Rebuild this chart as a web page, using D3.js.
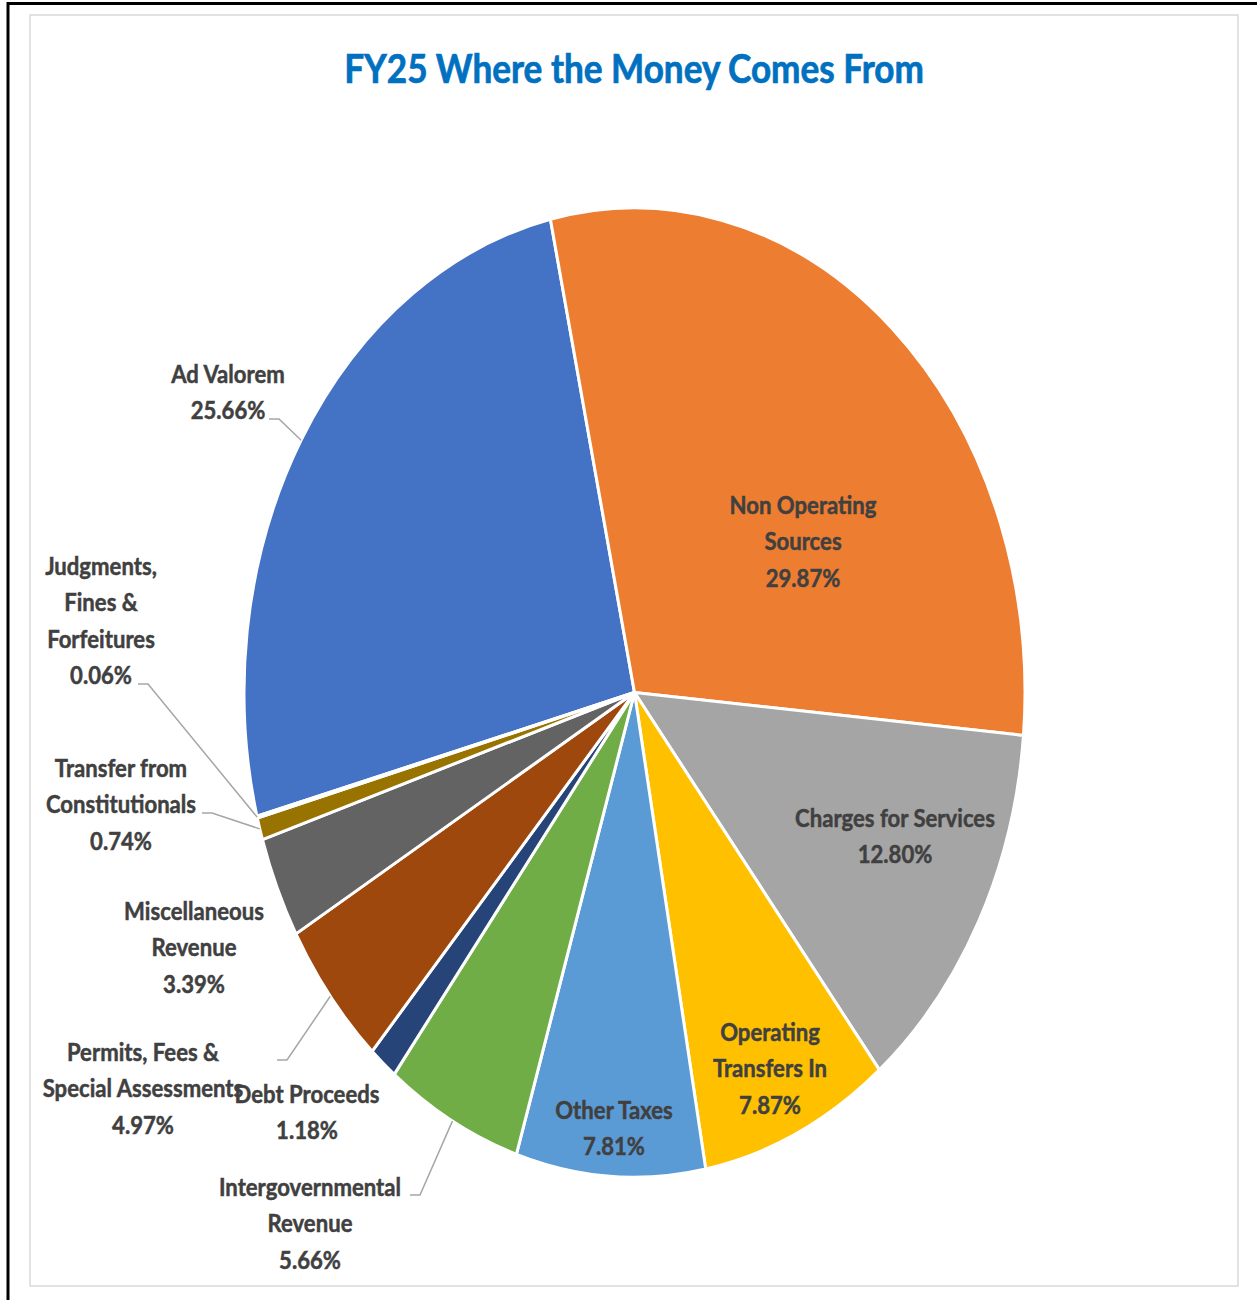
<!DOCTYPE html>
<html>
<head>
<meta charset="utf-8">
<script src="https://cdnjs.cloudflare.com/ajax/libs/d3/7.8.5/d3.min.js"></script>
<style>
  body { margin: 0; background: #fff; }
  .lbl { font-family: Lato, "Open Sans", sans-serif; font-weight: bold; fill: #404040; stroke: #404040; stroke-width: 0.5px; }
</style>
</head>
<body>
<div id="chart"></div>
<script>
var width = 1257, height = 1300;

// data, in Excel's point order (first slice = Ad Valorem)
var categories = ["Ad Valorem", "Non Operating Sources", "Charges for Services", "Operating Transfers In",
    "Other Taxes", "Intergovernmental Revenue", "Debt Proceeds", "Permits, Fees & Special Assessments",
    "Miscellaneous Revenue", "Transfer from Constitutionals", "Judgments, Fines & Forfeitures"];
var values = [25.66, 29.87, 12.80, 7.87, 7.81, 5.66, 1.18, 4.97, 3.39, 0.74, 0.06];
var labelLines = [
    ["Ad Valorem"], ["Non Operating", "Sources"], ["Charges for Services"], ["Operating", "Transfers In"],
    ["Other Taxes"], ["Intergovernmental", "Revenue"], ["Debt Proceeds"], ["Permits, Fees &", "Special Assessments"],
    ["Miscellaneous", "Revenue"], ["Transfer from", "Constitutionals"], ["Judgments,", "Fines &", "Forfeitures"]];
var colors = ["#4472C4", "#ED7D31", "#A5A5A5", "#FFC000", "#5B9BD5", "#70AD47",
    "#264478", "#9E480E", "#636363", "#997300", "#255E91"];

// label placement (Excel "best fit"): center x, first baseline, leader start (or null)
var labelPos = [
    { x: 228, y: 383, lead: [269, 419] },
    { x: 803, y: 514, lead: null },
    { x: 895, y: 827, lead: null },
    { x: 770, y: 1041, lead: null },
    { x: 614, y: 1119, lead: null },
    { x: 310, y: 1196, lead: [410, 1195] },
    { x: 307, y: 1103, lead: null },
    { x: 143, y: 1061, lead: [277, 1060] },
    { x: 194, y: 920, lead: null },
    { x: 121, y: 777, lead: [202, 813] },
    { x: 101, y: 575, lead: [138, 684] }
];

var cx = 634.5, cy = 692.5, rx = 390.5, ry = 484.5;
var lineH = 36.4;
var startDeg = 255.2;

var svg = d3.select("#chart").append("svg")
    .attr("width", width)
    .attr("height", height);

// outer frame
svg.append("path")
    .attr("d", "M8,1300 L8,3.5 L1257,3.5")
    .attr("fill", "none")
    .attr("stroke", "#000")
    .attr("stroke-width", 3);

svg.append("rect")
    .attr("x", 30).attr("y", 15)
    .attr("width", 1208).attr("height", 1271)
    .attr("fill", "#fff")
    .attr("stroke", "#d9d9d9")
    .attr("stroke-width", 1.5);

// title, squeezed horizontally to the narrow face of the original
var titleG = svg.append("g");
var title = titleG.append("text")
    .attr("class", "lbl")
    .attr("text-anchor", "middle")
    .style("fill", "#0070C0")
    .style("stroke", "#0070C0")
    .style("stroke-width", "0.7px")
    .style("font-size", "40px")
    .text("FY25 Where the Money Comes From");
var tsx = 580 / title.node().getComputedTextLength();
titleG.attr("transform", "translate(634,83) scale(" + tsx + ",1)");

var rad = Math.PI / 180;
var pie = d3.pie().sort(null).value(function(d) { return d; })
    .startAngle(startDeg * rad).endAngle(startDeg * rad + 2 * Math.PI);
var arcs = pie(values);

var arc = d3.arc().innerRadius(0).outerRadius(rx);

var pieG = svg.append("g")
    .attr("transform", "translate(" + cx + "," + cy + ") scale(1," + (ry / rx) + ")");

pieG.selectAll("path.slice")
    .data(arcs)
    .enter().append("path")
    .attr("class", "slice")
    .attr("d", arc)
    .attr("fill", function(d, i) { return colors[i]; })
    .attr("stroke", "#fff")
    .attr("stroke-width", 3)
    .attr("vector-effect", "non-scaling-stroke")
    .attr("stroke-linejoin", "round");

// point on the elliptical edge at a slice's mid angle
function edgePoint(d) {
    var a = (d.startAngle + d.endAngle) / 2;
    return [cx + rx * Math.sin(a), cy - ry * Math.cos(a)];
}

// leader lines
svg.selectAll("path.leader")
    .data(arcs.filter(function(d, i) { return labelPos[i].lead; }))
    .enter().append("path")
    .attr("class", "leader")
    .attr("fill", "none")
    .attr("stroke", "#a6a6a6")
    .attr("stroke-width", 1.5)
    .attr("d", function(d) {
        var p = labelPos[d.index].lead, e = edgePoint(d);
        return "M" + p[0] + "," + p[1] + "L" + (p[0] + 10) + "," + p[1] + "L" + e[0] + "," + e[1];
    });

// horizontal squeeze for labels, measured on one reference string (199px wide in the original)
var probe = svg.append("text").attr("class", "lbl").style("font-size", "25.5px").text("Charges for Services");
var lsx = 200 / probe.node().getComputedTextLength();
probe.remove();

// data labels
var labels = svg.selectAll("g.dl")
    .data(arcs)
    .enter().append("g")
    .attr("class", "dl")
    .attr("transform", function(d, i) {
        return "translate(" + labelPos[i].x + "," + labelPos[i].y + ") scale(" + lsx + ",1)";
    })
    .append("text")
    .attr("class", "lbl")
    .attr("text-anchor", "middle")
    .style("font-size", "25.5px");

labels.each(function(d, i) {
    var t = d3.select(this);
    var lines = labelLines[i].concat([values[i].toFixed(2) + "%"]);
    lines.forEach(function(s, j) {
        t.append("tspan")
            .attr("x", 0)
            .attr("y", j * lineH)
            .text(s);
    });
});
</script>
</body>
</html>
